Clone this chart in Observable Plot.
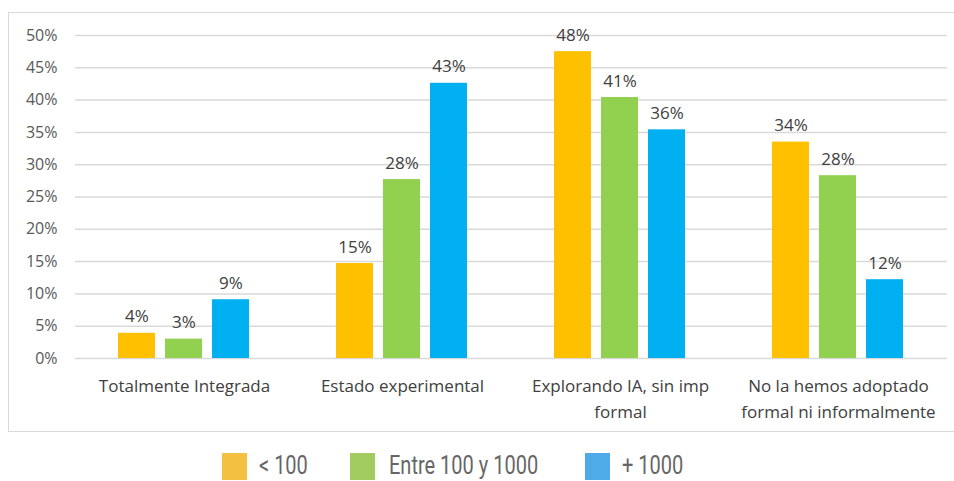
<!DOCTYPE html>
<html>
<head>
<meta charset="utf-8">
<script src="https://cdn.jsdelivr.net/npm/d3@7"></script>
<script src="https://cdn.jsdelivr.net/npm/@observablehq/plot@0.6"></script>
<style>
  body { margin: 0; background: #fff; width: 954px; height: 481px; overflow: hidden; position: relative; }
  #frame { position: absolute; left: 8px; top: 12px; width: 950px; height: 420px; border: 1px solid #d9d9d9; box-sizing: border-box; }
  #chart { position: absolute; left: 0; top: 0; }
  .sw { position: absolute; top: 453px; width: 25px; height: 27px; }
  .lt { position: absolute; top: 451px; line-height: 30px; font-family: Roboto, sans-serif; font-size: 25px; color: #666; transform: scaleX(0.8); transform-origin: left center; white-space: nowrap; }
</style>
</head>
<body>
<div id="frame"></div>
<div id="chart"></div>
<div id="legend"></div>
<script>
const categories = ["Totalmente Integrada", "Estado experimental", "Explorando IA, sin imp formal", "No la hemos adoptado formal ni informalmente"];
const categoryLabels = ["Totalmente Integrada", "Estado experimental", "Explorando IA, sin imp\nformal", "No la hemos adoptado\nformal ni informalmente"];
const series = ["< 100", "Entre 100 y 1000", "+ 1000"];
const valuesSmall = [3.9, 14.7, 47.5, 33.5];
const valuesMid = [3.0, 27.7, 40.4, 28.3];
const valuesLarge = [9.1, 42.6, 35.4, 12.2];
const valueLabels = [["4%", "15%", "48%", "34%"], ["3%", "28%", "41%", "28%"], ["9%", "43%", "36%", "12%"]];
const barColors = ["#FFC000", "#92D050", "#00B0F0"];
const legendColors = ["#F4C042", "#A2CB60", "#4EABE8"];
const yTicks = [0, 5, 10, 15, 20, 25, 30, 35, 40, 45, 50];

const seriesValues = [valuesSmall, valuesMid, valuesLarge];
const data = [];
series.forEach((s, si) => categories.forEach((c, ci) => data.push({cat: c, series: s, value: seriesValues[si][ci], label: valueLabels[si][ci]})));

const font = "'Open Sans', Lato, sans-serif";
const chart = Plot.plot({
  width: 954,
  height: 440,
  marginLeft: 75,
  marginRight: 7,
  marginTop: 35,
  marginBottom: 82,
  style: {fontFamily: font, background: "transparent"},
  fx: {domain: categories, padding: 0, label: null, axis: null},
  x: {domain: series, paddingInner: 0.208, paddingOuter: 0.875, axis: null},
  y: {domain: [0, 50], label: null},
  color: {domain: series, range: barColors},
  marks: [
    Plot.gridY(yTicks, {stroke: "#d9d9d9", strokeOpacity: 1, strokeWidth: 1.5}),
    Plot.axisY(yTicks, {tickSize: 0, tickPadding: 18, tickFormat: d => d + "%", fontSize: 16, fill: "#595959", label: null}),
    Plot.axisFx({anchor: "bottom", tickSize: 0, tickPadding: 15, tickFormat: c => categoryLabels[categories.indexOf(c)], fontSize: 17, fill: "#404040", lineHeight: 1.52, label: null}),
    Plot.barY(data, {fx: "cat", x: "series", y: "value", fill: "series"}),
    Plot.text(data, {fx: "cat", x: "series", y: "value", text: "label", lineAnchor: "bottom", dy: -11, fontSize: 17, fill: "#404040"})
  ]
});
document.getElementById("chart").appendChild(chart);

const legendX = [222, 350, 585];
const legendTextX = [259, 389, 622];
const legend = document.getElementById("legend");
series.forEach((s, i) => {
  const sw = document.createElement("div");
  sw.className = "sw";
  sw.style.left = legendX[i] + "px";
  sw.style.background = legendColors[i];
  const t = document.createElement("div");
  t.className = "lt";
  t.style.left = legendTextX[i] + "px";
  t.textContent = s;
  legend.appendChild(sw);
  legend.appendChild(t);
});
</script>
</body>
</html>
